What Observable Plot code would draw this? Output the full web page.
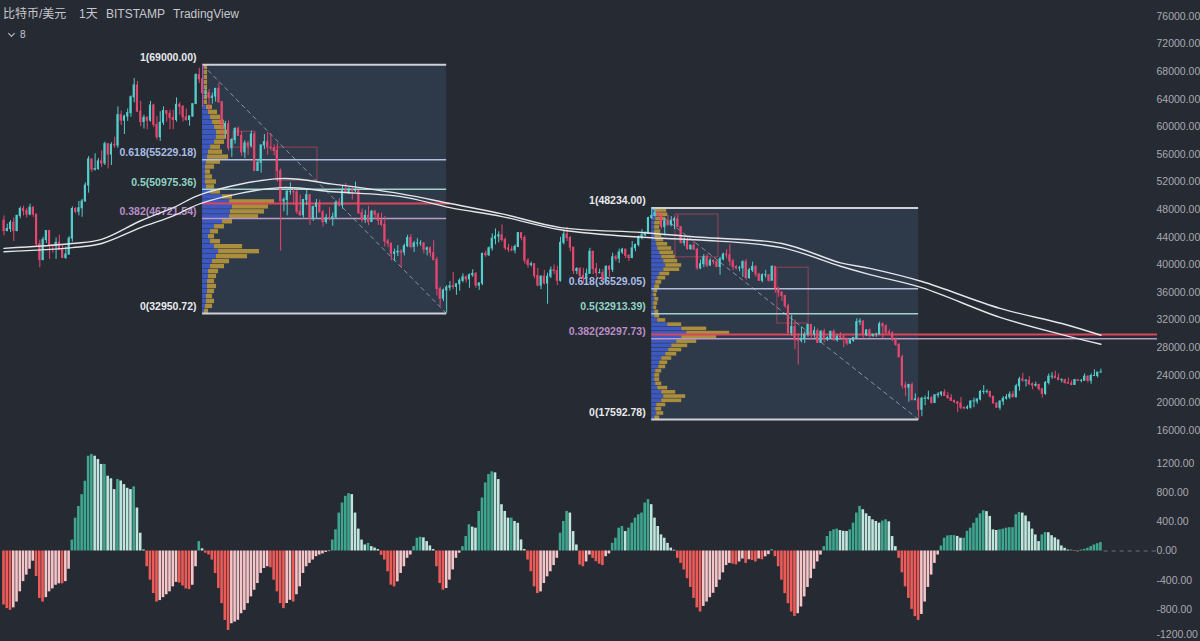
<!DOCTYPE html>
<html><head><meta charset="utf-8">
<script src="https://cdn.jsdelivr.net/npm/d3@7"></script>
<script src="https://cdn.jsdelivr.net/npm/@observablehq/plot@0.6"></script>
<style>
html,body{margin:0;padding:0;background:#262a33;overflow:hidden}
#wrap{position:relative;width:1200px;height:641px;background:#262a33}
#wrap svg{display:block}
.hdr{position:absolute;font-family:"Liberation Sans","Noto Sans CJK SC",Arial,sans-serif;color:#c5c7cc;white-space:nowrap;line-height:1}
.chev{display:inline-block;width:4px;height:4px;border-right:1.4px solid #c5c7cc;border-bottom:1.4px solid #c5c7cc;transform:rotate(45deg);margin:0 6px 3px 1px;vertical-align:middle}
</style></head><body><div id="wrap"></div>
<script>
// ---------- DATA ----------
const headerItems = ["比特币/美元", "1天", "BITSTAMP", "TradingView"];
const intervalLabel = "8";
// daily candles (USD thousands), day index 0 = first visible candle
const firstOpen = 46.4;
const closes = [44.9,45.2,46.1,44.9,47.1,48.1,47.8,47.3,48.3,47.3,
43.0,40.7,43.6,44.9,42.8,42.7,43.2,42.2,41.0,41.5,
43.8,48.1,47.7,48.2,49.2,51.5,55.3,53.8,53.9,55.0,
54.7,57.5,56.0,57.4,57.3,61.7,60.9,61.5,62.0,64.3,
66.0,62.2,60.7,61.3,60.9,63.1,60.3,58.5,60.6,62.3,
61.9,61.3,61.0,63.2,62.9,61.4,61.0,61.5,63.3,67.5,
66.9,64.9,64.9,64.2,64.4,65.5,63.6,60.1,60.4,56.9,
58.1,59.7,58.7,56.3,57.6,57.2,58.9,53.6,54.8,57.3,
57.8,57.0,56.9,56.5,53.6,49.2,49.4,50.6,50.6,50.5,
47.7,47.2,49.4,50.1,46.7,48.4,48.9,47.6,46.2,46.8,
46.7,46.9,49.0,48.6,50.8,50.4,50.8,50.7,50.7,47.5,
46.5,47.1,46.2,47.7,47.3,46.4,45.8,43.4,43.1,41.6,
41.8,41.9,41.8,42.7,43.9,42.6,43.1,43.1,43.1,42.2,
42.4,41.7,40.7,36.5,35.1,36.3,36.7,36.9,36.8,37.2,
37.7,38.2,37.9,38.5,38.7,37.0,37.3,41.6,41.4,42.4,
43.8,44.1,44.3,43.6,42.4,42.2,42.1,42.6,44.6,43.9,
40.6,40.0,40.1,38.4,37.0,38.3,37.3,38.3,39.2,39.1,
37.7,43.2,44.4,43.9,42.5,39.1,39.4,38.4,38.0,38.7,
41.9,39.4,38.8,38.8,37.8,39.7,39.3,41.1,40.9,41.8,
42.2,41.3,41.0,42.4,42.9,44.0,44.3,44.5,46.8,47.1,
47.5,47.1,45.5,46.3,45.8,46.4,46.6,45.5,43.2,43.4,
42.3,42.8,42.2,39.5,40.1,41.1,39.9,40.6,40.4,39.7,
40.8,41.5,41.4,40.5,39.7,39.5,39.5,40.4,38.1,39.2,
39.7,38.6,37.7,38.5,38.5,37.7,39.7,36.6,36.0,35.5,
34.0,30.1,31.0,29.1,29.0,29.3,29.9,31.3,29.9,30.4,
28.7,30.3,29.2,29.4,30.3,29.1,29.6,29.5,29.2,28.6,
29.0,29.4,31.7,31.8,29.8,30.5,29.7,29.9,29.9,31.4,
31.1,30.2,30.1,29.1,28.4,26.6,22.5,22.2,22.6,20.4,
20.5,19.0,20.6,20.6,20.7,20.0,21.1,21.2,21.5,21.0,
20.7,20.3,20.1,19.9,19.3,19.2,19.3,20.2,20.2,20.5,
21.6,21.6,21.6,20.9,19.9,19.3,20.2,20.6,20.8,21.2,
20.8,22.4,23.4,23.2,23.2,22.7,22.5,22.6,22.0,21.3,
22.9,23.8,23.8,23.6,23.3,23.3,22.9,22.8,22.6,23.3,
23.2,23.2,23.8,23.2,23.9,23.9,24.4,24.4];
const highs = [47.1,45.9,46.4,46.8,47.2,48.4,48.5,48.2,48.8,48.4,
47.3,43.6,44.0,45.0,45.0,42.9,43.9,44.3,42.8,42.6,
44.1,48.4,48.3,49.2,49.5,51.9,55.7,55.3,56.1,55.4,
56.5,57.8,57.6,57.7,58.5,62.9,62.3,61.7,62.6,64.5,
67.0,66.6,63.7,61.7,61.5,63.7,63.3,61.5,62.2,62.9,
62.3,62.4,62.4,64.2,63.5,63.1,62.6,61.6,63.3,67.7,
68.5,69.0,65.6,65.4,64.9,65.6,66.3,63.6,60.8,60.9,
58.3,59.9,60.0,59.3,58.0,57.9,59.4,59.2,55.3,57.4,
58.9,59.2,59.0,57.4,57.6,53.9,49.7,50.9,51.9,51.2,
50.8,50.1,49.5,50.8,50.2,48.5,49.5,49.4,47.9,47.3,
48.3,47.5,49.3,49.6,51.4,51.8,51.2,51.3,52.0,50.7,
48.1,47.9,48.5,47.9,47.9,47.5,47.5,47.0,43.7,43.1,
42.3,42.8,42.2,43.0,44.3,44.4,43.4,43.8,43.5,43.2,
42.6,42.6,43.5,41.1,36.8,36.5,37.0,37.6,38.9,37.2,
38.0,38.7,38.4,38.7,39.3,38.9,37.4,41.7,42.0,42.6,
44.5,45.2,44.8,45.8,43.9,43.0,42.7,42.9,44.7,44.6,
44.2,40.9,40.4,40.1,39.5,38.4,39.2,38.8,39.7,40.0,
39.8,44.0,44.9,45.4,44.1,42.5,39.6,39.6,39.5,39.4,
42.4,42.0,40.2,39.4,39.3,39.9,39.9,41.7,41.4,42.3,
42.4,42.3,41.5,43.4,43.0,44.2,45.1,44.8,46.9,48.2,
48.1,47.7,47.6,46.7,47.2,47.0,46.9,47.2,45.5,43.9,
43.9,42.8,43.4,42.4,40.7,41.5,41.5,40.9,40.7,40.6,
41.1,41.7,42.2,42.9,40.8,39.9,39.8,40.6,40.8,39.5,
40.4,39.9,38.8,38.7,39.2,38.6,39.9,39.8,36.6,36.1,
35.5,34.3,32.7,32.0,30.0,31.0,30.3,31.4,31.3,31.0,
30.7,30.5,30.7,29.6,30.4,30.6,29.8,30.2,29.8,29.4,
29.2,29.5,32.2,32.2,31.9,30.6,30.7,29.9,30.1,31.7,
31.6,31.3,30.6,30.3,29.4,28.6,26.9,23.0,22.7,22.9,
21.3,20.8,20.8,21.0,21.7,20.9,21.2,21.5,21.6,21.9,
21.5,21.2,20.4,20.2,20.8,19.4,19.6,20.3,20.7,20.6,
21.8,22.5,21.9,21.6,20.9,20.0,20.3,20.9,21.2,21.6,
21.7,22.7,23.7,24.3,23.4,23.8,22.9,23.0,22.7,21.3,
23.1,24.2,24.4,24.6,24.2,23.5,23.4,23.6,23.2,23.4,
23.3,23.4,24.2,23.9,24.2,24.8,24.4,24.9];
const lows = [44.2,44.8,44.7,43.4,44.8,46.7,47.1,46.8,47.1,46.9,
42.6,39.6,40.6,43.1,40.8,41.7,40.8,42.1,40.9,40.8,
41.4,43.3,47.4,47.1,46.9,49.1,50.4,53.4,53.6,53.7,
54.1,54.4,53.9,54.4,56.9,56.9,60.2,58.9,60.8,61.4,
63.5,62.1,60.0,59.7,59.6,60.7,59.9,58.1,57.9,60.2,
60.7,59.6,59.6,60.7,61.7,60.7,60.8,60.1,61.4,63.3,
66.3,62.8,64.1,62.3,63.3,63.6,63.4,58.6,58.4,56.5,
55.6,57.5,58.6,55.7,55.4,55.9,57.0,53.6,53.6,53.3,
56.7,55.9,56.5,55.8,52.0,42.0,47.7,47.1,50.1,48.6,
47.3,47.0,46.8,48.6,45.7,46.3,46.6,47.6,45.5,45.9,
46.4,45.6,46.6,48.4,48.1,50.4,50.2,49.4,50.5,47.3,
46.1,46.0,45.7,46.2,46.6,45.7,45.5,42.6,42.5,40.6,
40.5,41.2,39.6,41.3,42.5,42.3,41.8,42.6,42.7,41.6,
41.3,41.1,40.6,35.5,34.0,34.7,33.0,36.2,36.4,35.6,
36.2,37.4,37.4,36.6,38.2,36.6,36.3,37.0,41.1,41.2,
42.0,42.9,43.2,43.3,42.1,41.8,41.9,41.6,42.5,43.5,
40.1,39.5,39.7,38.0,36.8,36.4,37.1,34.3,38.0,38.6,
37.0,37.5,42.9,43.4,41.9,38.6,38.6,38.1,37.2,37.9,
38.7,38.6,38.2,38.7,37.6,37.6,38.2,38.9,40.5,40.2,
41.5,40.9,40.5,40.9,41.9,42.6,43.6,44.1,44.4,46.6,
46.9,46.6,45.2,44.2,45.6,45.5,45.1,45.4,43.0,42.7,
42.1,42.1,42.1,39.2,39.3,39.6,39.6,39.8,40.0,39.6,
38.5,40.6,40.9,39.8,39.2,39.3,39.0,38.2,37.8,37.9,
38.9,38.2,37.6,37.4,38.1,37.5,37.7,35.9,35.3,34.7,
33.7,30.0,29.7,27.7,25.5,28.7,28.6,29.5,29.1,29.5,
28.6,28.7,28.7,28.9,29.2,28.9,28.8,29.3,28.0,28.3,
28.5,28.8,29.3,31.2,29.4,29.6,29.4,29.5,29.5,29.9,
29.3,29.9,29.9,28.9,28.2,26.6,22.0,20.9,20.1,20.3,
20.3,17.6,18.0,19.6,20.4,19.8,19.9,20.7,20.9,21.0,
20.5,20.2,19.9,18.6,19.0,19.0,19.0,19.1,19.3,19.8,
20.3,21.2,21.3,20.7,19.9,19.2,18.9,19.6,20.4,20.5,
20.8,20.8,21.7,23.0,22.3,22.5,21.9,22.3,21.7,20.7,
21.1,22.6,23.4,23.5,23.3,22.9,22.7,22.7,22.5,22.6,
23.1,22.9,23.2,22.9,22.7,23.9,23.6,24.3];

// two moving averages (USD thousands) sampled at day indexes
const maDays = [0,21,30,42,52,61,85,101,122,137,153,171,196,214,239,257,266,282,306,325,337];
const maFast = [42.4,43.1,43.7,46.4,48.3,50.3,52.5,51.7,50.3,48.9,47.4,45.4,44.7,44.0,43.1,40.3,39.5,37.6,33.7,31.5,29.8];
const maSlow = [41.9,42.5,43.1,45.4,47.1,49.0,51.2,50.6,49.9,48.3,47.0,45.1,44.0,43.6,42.5,39.8,38.6,36.7,32.4,29.9,28.5];

// Fibonacci retracements
const fibRatios = [1, 0.618, 0.5, 0.382, 0];
const fib1Levels = [69000.00, 55229.18, 50975.36, 46721.54, 32950.72];
const fib2Levels = [48234.00, 36529.05, 32913.39, 29297.73, 17592.78];
const fib1Days = [61, 136];
const fib2Days = [199, 281];
const poc1 = 48900, poc2 = 29900;

// visible-range volume profiles (rows top -> bottom), up and down volume
const vp1Up = [2,2,2,2,2,2,2,2,4,6,8,10,12,14,14,12,8,6,5,4,3,3,3,3,4,8,20,27,30,28,27,20,12,8,6,8,12,16,14,10,8,6,6,5,5,5,4,4,3,2];
const vp1Down = [3,3,3,3,3,3,3,3,6,9,10,12,12,12,10,10,10,14,21,14,9,5,7,11,8,10,10,45,36,34,29,10,10,8,6,10,28,41,31,17,14,10,8,7,9,7,6,8,7,4];
const vp2Up = [3,4,4,3,3,3,3,4,5,6,8,10,12,14,12,8,6,4,3,2,2,3,2,2,3,3,6,16,30,35,30,25,20,17,14,10,8,7,4,3,3,4,6,10,12,10,5,4,5,3];
const vp2Down = [12,12,10,7,5,6,7,8,11,14,14,14,14,16,16,10,8,6,5,4,3,4,4,3,4,5,8,14,25,43,35,20,16,13,11,10,8,7,6,5,5,6,10,14,22,20,9,6,7,5];

// monthly range boxes [day1, day2, high, low] (USD thousands)
const rangeBoxes = [[70.5,77.2,59.3,57.0],[83.7,96.3,57.0,52.2],[206.3,219.5,47.3,41.1],[237.6,247.2,39.6,31.5]];

// MACD histogram
const macdHist = [-740,-790,-814,-780,-700,-560,-420,-330,-250,-140,
-350,-650,-700,-640,-560,-520,-470,-450,-450,-420,
-250,150,450,610,773,957,1300,1325,1300,1255,
1187,1187,1026,990,842,980,960,911,860,842,
880,589,244,14,-216,-400,-584,-700,-680,-640,
-600,-560,-492,-430,-440,-480,-520,-530,-470,-216,
129,30,-30,-55,-124,-308,-515,-722,-952,-1090,
-998,-975,-950,-860,-814,-722,-630,-538,-446,-308,
-240,-216,-230,-400,-560,-722,-791,-720,-676,-700,
-600,-492,-308,-216,-170,-124,-78,-55,-40,-20,
-8,150,290,520,658,750,787,773,520,300,
150,83,105,60,40,20,-60,-124,-285,-469,
-492,-423,-308,-216,-100,-55,60,175,189,180,
129,70,20,-216,-446,-538,-515,-400,-260,-100,
-30,60,198,360,327,313,543,727,934,1049,
1086,1072,980,635,543,451,451,405,380,152,
20,-124,-285,-492,-584,-561,-446,-354,-285,-200,
-100,244,405,543,520,267,83,-193,-216,-150,
-55,-101,-147,-180,-200,-78,-40,105,175,313,
336,267,313,382,451,497,520,658,704,635,
451,336,221,175,105,40,10,-100,-170,-260,
-380,-500,-650,-780,-837,-760,-700,-640,-580,-500,
-400,-300,-200,-170,-180,-190,-150,-110,-170,-120,
-130,-150,-110,-120,-80,-50,20,-78,-216,-400,
-584,-722,-837,-897,-860,-768,-630,-500,-380,-250,
-150,-55,60,198,267,290,300,280,270,267,
290,382,520,612,566,510,474,428,405,382,
410,428,400,198,60,-100,-300,-492,-650,-800,
-900,-952,-870,-700,-500,-330,-170,-55,69,175,
207,212,212,200,175,175,270,313,380,450,
510,552,540,474,290,281,290,300,313,320,
320,497,529,520,480,400,300,220,129,221,
253,250,210,180,152,69,37,14,14,5,
-14,14,23,37,60,83,100,115];

const priceTicks = [16000,20000,24000,28000,32000,36000,40000,44000,48000,52000,56000,60000,64000,68000,72000,76000];
const macdTicks = [-1200,-800,-400,0,400,800,1200];

// ---------- STYLE / LAYOUT ----------
const UP = "#52cfcc", DN = "#e6476f";
const G1 = "#3ea58e", G2 = "#bfe6dc", R1 = "#ec5b57", R2 = "#f6c5c8";
const fibLineColors = ["#cfd1d6","#b3bfdc","#a2d2cc","#bb9ac6","#cfd1d6"];
const fibTextColors = ["#e8e9ec","#a9bde6","#8fd4c4","#b98ec6","#e8e9ec"];
const AXIS = "#a6a9b1";
const xDomain = [-1.075, 367.6];
const axisEdgeDay = 354.4;   // right edge of pane (before price scale)
const vpScale = 1 / 3.255;   // profile width per volume unit, in days
const FONT = '"Liberation Sans", Arial, sans-serif';

// ---------- DERIVED TABLES ----------
const candles = closes.map((c, i) => {
  const o = i === 0 ? firstOpen : closes[i - 1];
  return {i, o, c, h: Math.max(highs[i], o, c), l: Math.min(lows[i], o, c), col: c >= o ? UP : DN};
});
const maRows = [
  ...maDays.map((d, k) => ({d, v: maFast[k], s: "fast"})),
  ...maDays.map((d, k) => ({d, v: maSlow[k], s: "slow"}))
];
function fibTable(levels, days, extendIdx) {
  return levels.map((lv, k) => ({
    p: lv / 1000, d1: days[0], d2: extendIdx.includes(k) ? axisEdgeDay : days[1],
    col: fibLineColors[k], tcol: fibTextColors[k],
    w: (k === 0 || k === 4) ? 2 : 1.5,
    label: `${fibRatios[k]}(${lv.toFixed(2)})`
  }));
}
const fibs = [...fibTable(fib1Levels, fib1Days, []), ...fibTable(fib2Levels, fib2Days, [3])];
const boxes = [
  {d1: fib1Days[0], d2: fib1Days[1], hi: fib1Levels[0] / 1000, lo: fib1Levels[4] / 1000},
  {d1: fib2Days[0], d2: fib2Days[1], hi: fib2Levels[0] / 1000, lo: fib2Levels[4] / 1000}
];
const diagonals = [
  {d: fib1Days[0], p: fib1Levels[0] / 1000, z: 1}, {d: fib1Days[1], p: fib1Levels[4] / 1000, z: 1},
  {d: fib2Days[0], p: fib2Levels[0] / 1000, z: 2}, {d: fib2Days[1], p: fib2Levels[4] / 1000, z: 2}
];
const pocs = [
  {p: poc1 / 1000, d1: fib1Days[0], d2: fib1Days[1] + 1},
  {p: poc2 / 1000, d1: fib2Days[0], d2: axisEdgeDay}
];
function profileRows(days, levels, up, down) {
  const hi = levels[0] / 1000, lo = levels[4] / 1000, n = up.length, h = (hi - lo) / n;
  return up.map((u, j) => ({
    top: hi - j * h, bot: hi - (j + 1) * h,
    x0: days[0], xb: days[0] + u * vpScale, xt: days[0] + (u + down[j]) * vpScale
  }));
}
const vp = [...profileRows(fib1Days, fib1Levels, vp1Up, vp1Down), ...profileRows(fib2Days, fib2Levels, vp2Up, vp2Down)];
const rBoxes = rangeBoxes.map(([d1, d2, hi, lo]) => ({d1, d2, hi, lo}));
const hist = macdHist.map((v, i) => {
  const prev = i > 0 ? macdHist[i - 1] : v;
  const col = v >= 0 ? (v >= prev ? G1 : G2) : (v <= prev ? R1 : R2);
  return {i, v, col};
});

const axisOpts = {anchor: "right", tickSize: 0, tickPadding: 0, dx: -44, fill: AXIS, fontSize: 10.5, label: null};

// ---------- PRICE PANE ----------
const price = Plot.plot({
  width: 1200, height: 440, marginLeft: 0, marginRight: 0, marginTop: 16, marginBottom: 10,
  style: {background: "transparent", color: AXIS, fontFamily: FONT, fontSize: "11px", overflow: "visible"},
  x: {domain: xDomain, axis: null},
  y: {domain: [16, 76], label: null},
  color: {type: "identity"},
  marks: [
    Plot.rect(boxes, {x1: "d1", x2: "d2", y1: "lo", y2: "hi", fill: "#5078a8", fillOpacity: 0.2}),
    Plot.rect(vp, {x1: "x0", x2: "xb", y1: "bot", y2: "top", fill: "#3f5fd6", fillOpacity: 0.85, insetTop: 0.6}),
    Plot.rect(vp, {x1: "xb", x2: "xt", y1: "bot", y2: "top", fill: "#c9a23a", fillOpacity: 0.8, insetTop: 0.6}),
    Plot.rect(rBoxes, {x1: "d1", x2: "d2", y1: "lo", y2: "hi", fill: "none", stroke: "#b8475a", strokeOpacity: 0.75, strokeWidth: 1}),
    Plot.line(diagonals, {x: "d", y: "p", z: "z", stroke: "#8d929c", strokeWidth: 1, strokeDasharray: "4,4"}),
    Plot.ruleY(fibs.filter(f => f.w === 1.5), {y: "p", x1: "d1", x2: "d2", stroke: "col", strokeWidth: 1.5}),
    Plot.ruleY(fibs.filter(f => f.w === 2), {y: "p", x1: "d1", x2: "d2", stroke: "col", strokeWidth: 2}),
    Plot.ruleY(pocs, {y: "p", x1: "d1", x2: "d2", stroke: "#d9485a", strokeWidth: 2}),
    Plot.text(fibs, {x: "d1", y: "p", text: "label", fill: "tcol", textAnchor: "end", dx: -6, dy: -7, fontSize: 10.5, fontWeight: 600}),
    Plot.ruleX(candles, {x: "i", y1: "l", y2: "h", stroke: "col", strokeWidth: 1}),
    Plot.rect(candles, {x1: d => d.i - 0.33, x2: d => d.i + 0.33, y1: "o", y2: "c", fill: "col", insetTop: -0.5, insetBottom: -0.5}),
    Plot.line(maRows, {x: "d", y: "v", z: "s", stroke: "#e4e5e8", strokeWidth: 1.4, curve: "catmull-rom"}),
    Plot.axisY({...axisOpts, ticks: priceTicks.map(t => t / 1000), tickFormat: t => (t * 1000).toFixed(2)})
  ]
});

// ---------- MACD PANE ----------
const macd = Plot.plot({
  width: 1200, height: 201, marginLeft: 0, marginRight: 0, marginTop: 23, marginBottom: 3,
  style: {background: "transparent", color: AXIS, fontFamily: FONT, fontSize: "11px", overflow: "visible"},
  x: {domain: xDomain, axis: null},
  y: {domain: [-1200, 1200], label: null},
  color: {type: "identity"},
  marks: [
    Plot.rect(hist, {x1: d => d.i - 0.4, x2: d => d.i + 0.4, y1: () => 0, y2: "v", fill: "col"}),
    Plot.ruleY([0], {x1: () => hist.length, x2: () => axisEdgeDay, stroke: "#6a6e78", strokeDasharray: "4,4", strokeWidth: 1}),
    Plot.axisY({...axisOpts, ticks: macdTicks.slice(1), tickFormat: t => t.toFixed(2)}),
    Plot.axisY({...axisOpts, ticks: macdTicks.slice(0, 1), dy: -4, tickFormat: t => t.toFixed(2)})
  ]
});

const wrap = document.getElementById("wrap");
wrap.appendChild(price);
wrap.appendChild(macd);

// header
const lefts = [3, 79, 106, 173];
headerItems.forEach((t, k) => {
  const s = document.createElement("div");
  s.className = "hdr";
  s.style.left = lefts[k] + "px"; s.style.top = "8px"; s.style.fontSize = "12px";
  s.textContent = t;
  wrap.appendChild(s);
});
const sub = document.createElement("div");
sub.className = "hdr";
sub.style.left = "8px"; sub.style.top = "30px"; sub.style.fontSize = "10px";
sub.innerHTML = '<span class="chev"></span>' + intervalLabel;
wrap.appendChild(sub);
</script></body></html>
